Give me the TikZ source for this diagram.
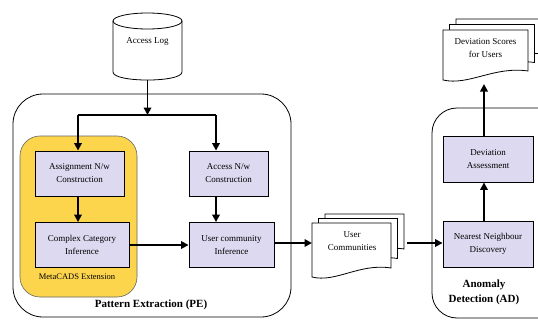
\documentclass[tikz,border=0pt]{standalone}
\usepackage{fontspec}
\setmainfont{Liberation Serif}
\usetikzlibrary{arrows.meta}
\definecolor{boxfill}{RGB}{221,217,240}
\definecolor{metayellow}{RGB}{253,213,77}
\newcommand\docpg[4]{%
  \draw[docfill] (#1,#2) -- (#1+#3,#2) -- (#1+#3,#2+#4-9)
    .. controls (#1+0.6*#3,#2+#4-14) and (#1+0.3*#3,#2+#4+6) .. (#1,#2+#4) -- cycle;}
\begin{document}
\begin{tikzpicture}[x=1pt,y=-1pt,
  txt/.style={font=\fontsize{9}{13}\selectfont, align=center, inner sep=0pt},
  proc/.style={draw, line width=0.9pt, fill=boxfill, minimum height=45pt, inner sep=1pt,
               align=center, font=\fontsize{9}{13}\selectfont},
  arr/.style={line width=1.8pt, -{Triangle[length=7.5pt,width=7.5pt]}},
  ln/.style={line width=1.8pt},
  docfill/.style={draw, line width=0.8pt, fill=white},
  ghost/.style={inner sep=0pt, outer sep=0pt},
  container/.style={line width=0.8pt},
  biglbl/.style={font=\fontsize{11}{15}\selectfont\bfseries, align=center, inner sep=0pt}]
\useasboundingbox (0,0) rectangle (538,321);
\clip (0,0) rectangle (538,321);
\fill[white] (0,0) rectangle (538,321);

% containers
\draw[container, rounded corners=30pt] (13,94) rectangle (291,317);
\draw[container, rounded corners=25pt] (432,108) rectangle (570,318);
\draw[line width=0.6pt, draw=black!60, fill=metayellow, rounded corners=20pt] (20,136) rectangle (137,297);

% Access Log cylinder
\draw[line width=0.8pt] (113,21) -- (113,72) .. controls (113,82.7) and (182,82.7) .. (182,72) -- (182,21);
\draw[line width=0.8pt] (147.5,21) ellipse [x radius=34.5, y radius=8];
\node[ghost, minimum width=69pt, minimum height=67pt] (log) at (147.5,46.5) {};
\node[txt] (logtext) at (147.5,42) {Access Log};

% process boxes
\node[proc, minimum width=89pt] (assign) at (79.5,173.5) {Assignment N/w\\Construction};
\node[proc, minimum width=94pt] (complex) at (82,245) {Complex Category\\Inference};
\node[proc, minimum width=79pt] (access) at (228.5,173.5) {Access N/w\\Construction};
\node[proc, minimum width=85pt] (ucomm) at (231.5,245) {User community\\Inference};
\node[proc, minimum width=90pt, minimum height=46pt] (nn) at (488,244) {Nearest Neighbour\\Discovery};
\node[proc, minimum width=90pt, minimum height=46pt] (da) at (488,159) {Deviation\\Assessment};

% labels
\node[txt, font=\fontsize{8.5}{10}\selectfont] (metalbl) at (77,277) {MetaCADS Extension};
\node[biglbl] (pelbl) at (151,305) {Pattern Extraction (PE)};
\node[biglbl] (adlbl) at (484,292) {Anomaly\\Detection (AD)};

% document stacks
\docpg{325}{214}{79}{44}
\docpg{318.5}{218.5}{79}{49}
\docpg{312}{223}{79}{54}
\node[ghost, minimum width=95pt, minimum height=20pt] (ucdoc) at (359.5,243) {};
\node[txt] (uctext) at (352,241.5) {User\\Communities};

\docpg{456}{19}{85}{44}
\docpg{449.5}{24.5}{85}{47}
\docpg{443}{30}{85}{50}
\node[ghost, minimum width=85pt, minimum height=54pt] (dsdoc) at (485.5,57) {};
\node[txt] (dstext) at (485.5,48) {Deviation Scores\\for Users};

% connectors
\coordinate (j1) at (147.5,115);
\coordinate (jl) at (78,115);
\coordinate (jr) at (216,115);
\draw[arr] (log.south) -- (j1);
\draw[ln] (jl) -- (jr);
\draw[arr] (jl) -- (jl |- assign.north);
\draw[arr] (jr) -- (jr |- access.north);
\draw[arr] (jl |- assign.south) -- (jl |- complex.north);
\draw[arr] (jr |- access.south) -- (jr |- ucomm.north);
\draw[arr] (complex.east) -- (ucomm.west);
\draw[arr] (ucomm.east |- ucdoc.west) -- (ucdoc.west);
\draw[arr] (ucdoc.east) -- (ucdoc.east -| nn.west);
\draw[arr] (484,0 |- nn.north) -- (484,0 |- da.south);
\draw[arr] (484,0 |- da.north) -- (484,0 |- dsdoc.south);
\end{tikzpicture}
\end{document}
